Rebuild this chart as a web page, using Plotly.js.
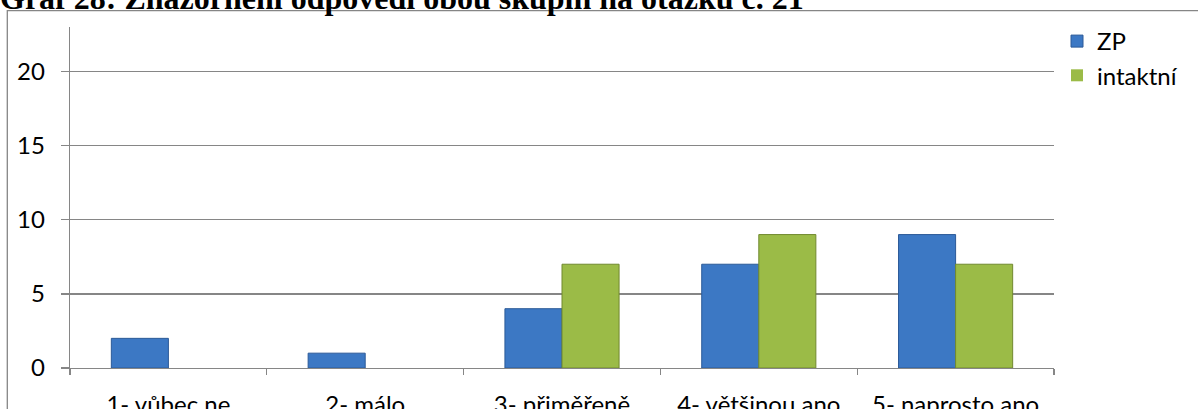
<!DOCTYPE html>
<html>
<head>
<meta charset="utf-8">
<script src="https://cdn.plot.ly/plotly-3.0.1.min.js"></script>
<style>
  html, body { margin: 0; padding: 0; background: #ffffff; }
  #chart { width: 1198px; height: 409px; }
</style>
</head>
<body>
<div id="chart"></div>
<script>
// Answers of both groups to question no. 21
const categories = ['1- vůbec ne', '2- málo', '3- přiměřeně', '4- většinou ano', '5- naprosto ano'];
const zpValues = [2, 1, 4, 7, 9];
const intaktniValues = [0, 0, 7, 9, 7];
const seriesNames = ['ZP', 'intaktní'];
const yTickValues = [0, 5, 10, 15, 20];
const chartTitle = 'Graf 28: Znázornění odpovědí obou skupin na otázku č. 21';

const W = 1198, H = 409;
const M = { l: 70, r: 144, t: 27, b: 41 };
const plotW = W - M.l - M.r;
const plotH = H - M.t - M.b;
const px2x = px => (px - M.l) / plotW;
const px2y = py => 1 - (py - M.t) / plotH;

const gray = '#868686';
const labelFont = { family: 'Lato, "Open Sans", sans-serif', size: 24, color: '#000000' };

// no outline on empty (zero-height) bars
const outlineWidths = vals => vals.map(v => (v > 0 ? 1 : 0));

const traces = [
  {
    type: 'bar', name: seriesNames[0], x: categories, y: zpValues,
    marker: { color: '#3C78C4', line: { color: '#2C5A98', width: outlineWidths(zpValues) } },
    hoverinfo: 'x+y+name'
  },
  {
    type: 'bar', name: seriesNames[1], x: categories, y: intaktniValues,
    marker: { color: '#9BBB47', line: { color: '#71892F', width: outlineWidths(intaktniValues) } },
    hoverinfo: 'x+y+name'
  }
];

const layout = {
  width: W, height: H,
  margin: M,
  paper_bgcolor: '#ffffff',
  plot_bgcolor: '#ffffff',
  barmode: 'group',
  bargap: 0.42,
  bargroupgap: 0,
  title: {
    text: chartTitle,
    font: { family: '"Liberation Serif", "DejaVu Serif", serif', size: 32, weight: 'bold', color: '#000000' },
    x: 0, xref: 'container', xanchor: 'left',
    y: 1 - 9 / H, yref: 'container', yanchor: 'bottom',
    pad: { t: 0, b: 0, l: 0, r: 0 }
  },
  xaxis: {
    type: 'category',
    showline: true, linecolor: gray, linewidth: 1.3,
    ticks: 'outside', ticklen: 6, tickcolor: gray, tickwidth: 1.3,
    tickson: 'boundaries',
    showgrid: false, zeroline: false,
    tickfont: labelFont,
    ticklabelstandoff: 15,
    fixedrange: true
  },
  yaxis: {
    range: [0, 23],
    tickvals: yTickValues,
    ticktext: yTickValues.map(String),
    showline: true, linecolor: gray, linewidth: 1.3,
    ticks: 'outside', ticklen: 8, tickcolor: gray, tickwidth: 1.3,
    showgrid: true, gridcolor: gray, gridwidth: 1.3,
    zeroline: false,
    tickfont: labelFont,
    ticklabelstandoff: 11,
    fixedrange: true
  },
  legend: {
    x: px2x(1057), xanchor: 'left',
    y: px2y(19), yanchor: 'top',
    bgcolor: 'rgba(0,0,0,0)',
    font: labelFont,
    tracegroupgap: 0
  },
  shapes: [
    // chart frame: left and top edges
    {
      type: 'path', xref: 'paper', yref: 'paper',
      path: 'M ' + px2x(7.3) + ' ' + px2y(H + 5) + ' L ' + px2x(7.3) + ' ' + px2y(10.7) +
            ' L ' + px2x(W + 5) + ' ' + px2y(10.7),
      line: { color: gray, width: 1.3 }
    }
  ]
};

Plotly.newPlot('chart', traces, layout, { displayModeBar: false, staticPlot: true });
</script>
</body>
</html>
